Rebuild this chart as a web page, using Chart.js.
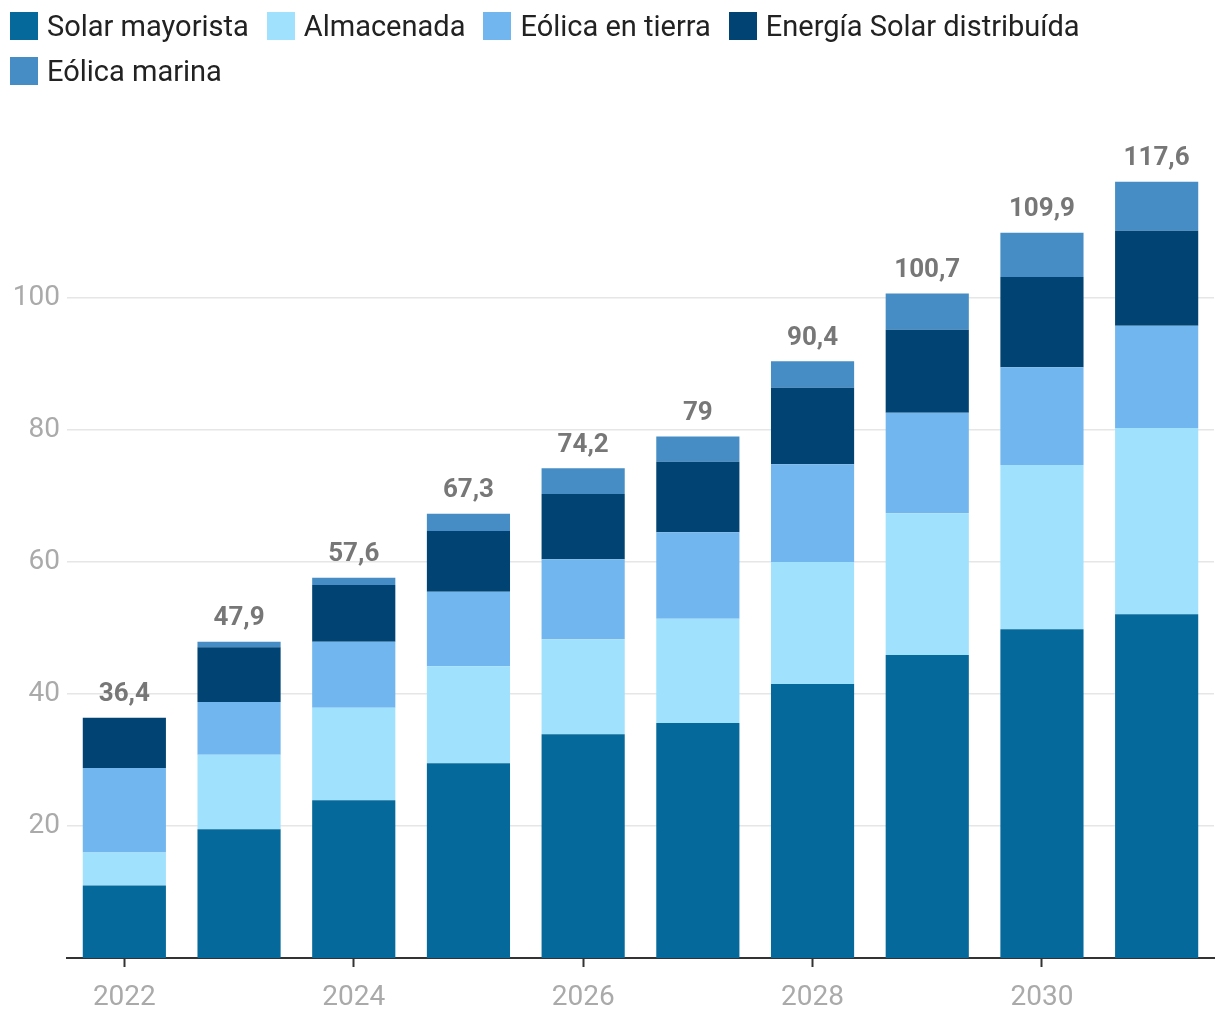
<!DOCTYPE html>
<html lang="es">
<head>
<meta charset="utf-8">
<script src="https://cdn.jsdelivr.net/npm/chart.js@4.4.0/dist/chart.umd.min.js"></script>
<style>
  html, body { margin: 0; padding: 0; background: #fff; }
  #wrap { position: relative; width: 1220px; height: 1020px; }
  #legend { position: absolute; left: 10px; top: 3px; width: 1200px; font-family: 'Roboto', 'Liberation Sans', sans-serif; font-size: 29px; color: #222; }
  .item { display: inline-flex; align-items: center; margin-right: 18px; height: 45px; vertical-align: top; }
  .box { width: 28px; height: 28px; margin-right: 9px; }
  #chartBox { position: absolute; left: 0; top: 0; width: 1220px; height: 1020px; }
</style>
</head>
<body>
<div id="wrap">
  <div id="chartBox"><canvas id="myChart"></canvas></div>
  <div id="legend"></div>
</div>
<script>
// datos
const years = ['2022', '2023', '2024', '2025', '2026', '2027', '2028', '2029', '2030', '2031'];
const solarMayorista = [11, 19.5, 23.9, 29.5, 33.9, 35.6, 41.5, 45.9, 49.8, 52.1];
const almacenada = [5, 11.3, 14, 14.7, 14.4, 15.8, 18.5, 21.5, 24.9, 28.2];
const eolicaTierra = [12.8, 8, 10, 11.3, 12.1, 13.1, 14.8, 15.2, 14.8, 15.5];
const solarDistribuida = [7.6, 8.3, 8.6, 9.2, 9.9, 10.7, 11.6, 12.6, 13.7, 14.4];
const eolicaMarina = [0, 0.8, 1.1, 2.6, 3.9, 3.8, 4, 5.5, 6.7, 7.4];
const totals = [36.4, 47.9, 57.6, 67.3, 74.2, 79, 90.4, 100.7, 109.9, 117.6];
const yTicks = [20, 40, 60, 80, 100];

const series = [
  { label: 'Solar mayorista', data: solarMayorista, color: '#06699b' },
  { label: 'Almacenada', data: almacenada, color: '#a0e1fd' },
  { label: 'Eólica en tierra', data: eolicaTierra, color: '#72b6ef' },
  { label: 'Energía Solar distribuída', data: solarDistribuida, color: '#014473' },
  { label: 'Eólica marina', data: eolicaMarina, color: '#458dc4' }
];

// leyenda en HTML
const legendEl = document.getElementById('legend');
series.forEach(s => {
  const it = document.createElement('span');
  it.className = 'item';
  it.innerHTML = `<span class="box" style="background:${s.color}"></span>${s.label}`;
  legendEl.appendChild(it);
});

const fmt = v => String(v).replace('.', ',');

// etiqueta con el total encima de cada barra
const totalLabels = {
  id: 'totalLabels',
  afterDatasetsDraw(chart) {
    const ctx = chart.ctx;
    const meta = chart.getDatasetMeta(series.length - 1);
    ctx.save();
    ctx.font = "bold 26px 'Roboto', 'Liberation Sans', sans-serif";
    ctx.fillStyle = '#777';
    ctx.textAlign = 'center';
    ctx.textBaseline = 'bottom';
    meta.data.forEach((bar, i) => {
      ctx.fillText(fmt(totals[i]), bar.x, bar.y - 10);
    });
    ctx.restore();
  }
};

const ctx = document.getElementById('myChart').getContext('2d');
new Chart(ctx, {
  type: 'bar',
  data: {
    labels: years,
    datasets: series.map(s => ({
      label: s.label,
      data: s.data,
      backgroundColor: s.color,
      borderWidth: 0,
      categoryPercentage: 1,
      barPercentage: 0.725
    }))
  },
  options: {
    responsive: true,
    maintainAspectRatio: false,
    animation: false,
    layout: { padding: { top: 166, right: 6, bottom: 0, left: 0 } },
    plugins: {
      legend: { display: false },
      tooltip: { enabled: false }
    },
    scales: {
      x: {
        stacked: true,
        border: { display: true, color: '#333', width: 2 },
        grid: { offset: false, drawOnChartArea: false, drawTicks: true, tickLength: 9, color: '#333', tickWidth: 2 },
        afterFit: axis => { axis.height = 62; },
        ticks: {
          autoSkip: false,
          maxRotation: 0,
          padding: 14,
          color: '#aaa',
          font: { family: "'Roboto', 'Liberation Sans', sans-serif", size: 28 },
          callback: function(val, i) { return i % 2 === 0 ? years[i] : null; }
        }
      },
      y: {
        stacked: true,
        min: 0,
        max: 120,
        border: { display: false },
        grid: { color: '#e6e6e6', lineWidth: 1.5, drawTicks: false },
        afterBuildTicks: axis => { axis.ticks = [0, ...yTicks, 120].map(v => ({ value: v })); },
        afterFit: axis => { axis.width = 67; },
        ticks: {
          padding: 7,
          color: '#aaa',
          font: { family: "'Roboto', 'Liberation Sans', sans-serif", size: 28 },
          callback: v => yTicks.includes(v) ? String(v) : null
        }
      }
    }
  },
  plugins: [totalLabels]
});
</script>
</body>
</html>
